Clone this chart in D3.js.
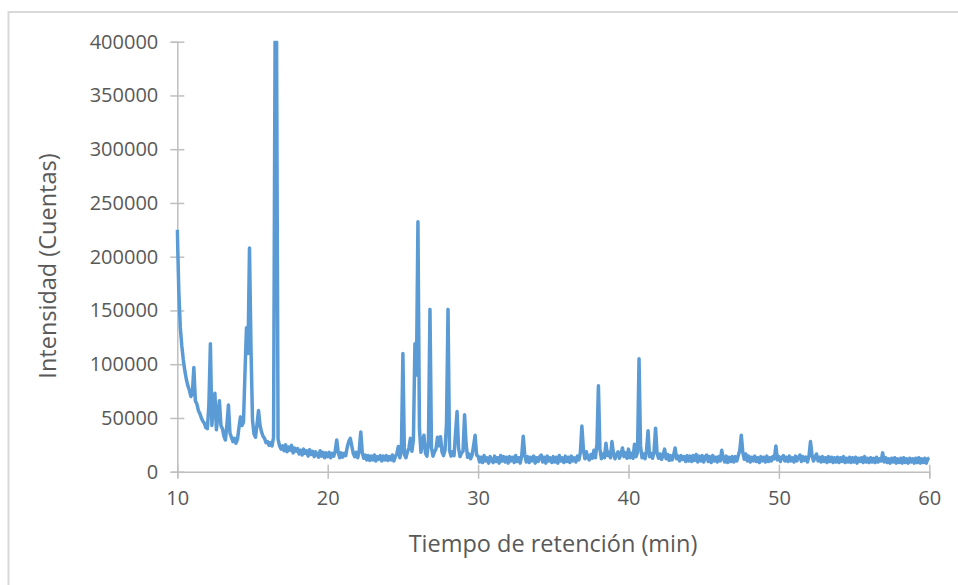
<!DOCTYPE html>
<html>
<head>
<meta charset="utf-8">
<script src="https://cdn.jsdelivr.net/npm/d3@7"></script>
<style>
  body { margin: 0; background: #fff; }
  svg { display: block; }
  .tick text { fill: #595959; font-family: "Open Sans", sans-serif; }
</style>
</head>
<body>
<div id="chart-holder"></div>
<script>
// chromatogram sampled every 0.1 min, from 10.0 to 60.0 min (one row per minute)
var tiempoInicio = 10, paso = 0.1;
var intensidad = [
  225000,168000,134000,117000,104000,94000,86000,80000,76000,70000,   // 10
  72000,97000,66000,63000,57000,54000,50000,47000,45000,41000,        // 11
  40000,62000,119000,43000,60000,73000,39000,52000,66000,43000,       // 12
  40000,33000,29500,44000,62000,36000,32000,28000,31000,26500,        // 13
  30000,41000,51000,43000,46000,92000,134000,110000,208000,115000,    // 14
  48000,35000,32000,44000,57000,43000,37000,33000,31000,27000,        // 15
  28000,24500,27000,24000,32000,400000,400000,30000,24000,21000,      // 16
  24000,19500,25000,18500,23000,20000,24500,17500,22000,19000,        // 17
  21500,16500,20000,15500,21000,17000,19500,14500,20500,16000,        // 18
  19000,14000,18500,15500,13500,19500,14500,18000,13000,17500,        // 19
  14000,18000,13000,17000,14500,19000,29500,18000,13000,17500,        // 20
  13500,17000,15000,23000,28000,31000,24000,17000,14000,18000,        // 21
  13000,20000,37000,17500,12500,15500,11000,15000,10500,14500,        // 22
  11000,15500,10000,14000,11500,15000,10000,14500,11000,15000,        // 23
  10500,14000,11000,15500,10000,14000,17000,23500,13000,20000,        // 24
  110000,16000,13000,18500,22000,31000,19000,30000,119000,90000,      // 25
  232500,40000,18000,27000,34000,17000,14500,28000,151000,22000,      // 26
  14500,18500,21000,32000,24000,32500,18500,15000,20000,45000,        // 27
  151000,20000,14500,18500,15000,36000,56000,22000,14000,17500,       // 28
  19000,53000,26000,13500,16500,12000,15500,24000,34000,15500,        // 29
  14500,9000,13500,8500,15000,10000,13000,8000,14000,10500,           // 30
  8500,14500,9500,13000,8000,15000,10000,14000,9000,13500,            // 31
  8000,14000,10000,13500,8500,15000,9500,13000,8000,15000,            // 32
  33000,16000,9000,14000,8500,13500,10000,14500,8000,13000,           // 33
  9500,14000,15500,9000,13500,8000,14500,10000,13000,8500,            // 34
  14000,9000,13500,8000,15000,10000,13000,8500,14500,9500,            // 35
  13500,8500,14500,10000,13000,9000,14500,11000,18000,42500,          // 36
  21000,12000,18500,13000,11000,16000,12500,20000,13000,25000,        // 37
  80000,21000,12000,16500,13000,26500,15000,18000,13000,28000,        // 38
  17000,12000,16000,18500,12500,16500,22000,14000,17500,12500,        // 39
  21000,13000,17000,12500,25500,14000,18000,105000,24000,13000,       // 40
  16500,12000,20000,38000,14000,17000,12500,19000,40500,17000,        // 41
  12500,16500,11500,15500,21000,12000,16000,10500,15000,11000,        // 42
  15500,22000,12000,14500,10000,15000,11500,14000,9500,15000,         // 43
  10000,14500,9500,15000,10500,16000,9000,14500,10000,15000,          // 44
  9000,14000,15500,9500,14000,8500,15000,10000,13500,9000,            // 45
  14000,10000,20000,12500,9000,14500,8500,13500,9500,14000,           // 46
  9000,14000,10000,15000,20000,34000,18000,11500,16500,10000,         // 47
  14500,9000,13500,10000,14500,9500,13000,8500,14000,10000,           // 48
  13500,9000,14500,9500,13000,10000,14000,12000,24000,11000,          // 49
  14000,9500,13500,15000,10000,13500,9500,14500,10000,13000,          // 50
  9000,14500,10000,13500,15500,9500,14000,10500,13500,9000,           // 51
  14500,28000,15500,10000,13000,16500,10000,13500,9000,14000,         // 52
  9500,13000,8500,14000,9500,13500,8500,13000,9000,13500,             // 53
  8500,13000,9500,14000,8500,12500,9000,13500,8500,13000,             // 54
  9000,13500,8000,12500,9500,13000,8500,14000,9000,12500,             // 55
  8500,13000,9000,12500,8500,13500,9000,12000,10000,17500,            // 56
  9000,13000,8500,12000,8000,12500,9000,13000,8000,12000,             // 57
  8500,12500,8000,13000,8500,12000,8000,12500,9000,12000,             // 58
  8000,12500,8500,13000,8000,12000,8500,12500,8000,12000,             // 59
  13000                                                               // 60
];
var xTicks = [10, 20, 30, 40, 50, 60];
var yTicks = [0, 50000, 100000, 150000, 200000, 250000, 300000, 350000, 400000];
var xTitle = "Tiempo de retención (min)";
var yTitle = "Intensidad (Cuentas)";

var W = 958, H = 585;
var margin = { top: 41.7, right: 28.7, bottom: 113.3, left: 177.3 },
  width = W - margin.left - margin.right,
  height = H - margin.top - margin.bottom;

var data = intensidad.map(function (v, i) {
  return { t: +(tiempoInicio + i * paso).toFixed(1), v: v };
});

var x = d3.scaleLinear().domain([10, 60]).range([0, width]);
var y = d3.scaleLinear().domain([0, 400000]).range([height, 0]);

var svg = d3.select("#chart-holder").append("svg")
  .attr("width", W)
  .attr("height", H);

// chart frame (right and bottom edges are outside the picture)
svg.append("rect")
  .attr("x", 8.5).attr("y", 12)
  .attr("width", 1000).attr("height", 1000)
  .attr("fill", "none")
  .attr("stroke", "#d9d9d9")
  .attr("stroke-width", 2);

var g = svg.append("g")
  .attr("transform", "translate(" + margin.left + "," + margin.top + ")");

svg.append("clipPath").attr("id", "plot-clip")
  .append("rect")
  .attr("x", -2).attr("y", -1)
  .attr("width", width + 4).attr("height", height + 10);

// y axis (cross tick marks)
var yAxis = g.append("g")
  .call(d3.axisLeft(y).tickValues(yTicks).tickFormat(d3.format("d")));
yAxis.selectAll(".tick line").attr("x1", -7).attr("x2", 7);
yAxis.selectAll(".tick text").attr("x", -19).style("font-size", "20px");

// x axis
var xAxis = g.append("g")
  .attr("transform", "translate(0," + height + ")")
  .call(d3.axisBottom(x).tickValues(xTicks));
xAxis.selectAll(".tick line").attr("y1", -7).attr("y2", 7);
xAxis.selectAll(".tick text").attr("y", 19).style("font-size", "20px");

g.selectAll(".domain").attr("stroke", "#bfbfbf").attr("stroke-width", 1.5);
g.selectAll(".tick line").attr("stroke", "#bfbfbf").attr("stroke-width", 1.5);

// the trace
var valueline = d3.line()
  .x(function (d) { return x(d.t); })
  .y(function (d) { return y(d.v); });

g.append("path")
  .datum(data)
  .attr("clip-path", "url(#plot-clip)")
  .attr("fill", "none")
  .attr("stroke", "#5b9bd5")
  .attr("stroke-width", 3.5)
  .attr("stroke-linejoin", "round")
  .attr("d", valueline);

// axis titles
svg.append("text")
  .attr("x", 553).attr("y", 552)
  .attr("text-anchor", "middle")
  .attr("fill", "#595959")
  .style("font-family", "'Open Sans', sans-serif")
  .style("font-size", "23.5px")
  .text(xTitle);

svg.append("text")
  .attr("transform", "translate(56,266) rotate(-90)")
  .attr("text-anchor", "middle")
  .attr("fill", "#595959")
  .style("font-family", "'Open Sans', sans-serif")
  .style("font-size", "23.5px")
  .text(yTitle);
</script>
</body>
</html>
